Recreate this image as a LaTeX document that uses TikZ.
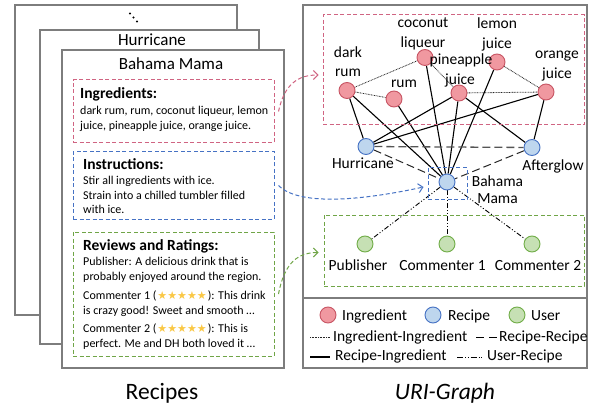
\documentclass[tikz,border=0pt]{standalone}
\usepackage{fontspec}
\setmainfont{Carlito}
\newfontfamily\starfont{DejaVu Sans}
\usetikzlibrary{arrows.meta,backgrounds}
\definecolor{ingF}{RGB}{240,152,160}
\definecolor{ingD}{RGB}{200,85,100}
\definecolor{recF}{RGB}{190,214,238}
\definecolor{recD}{RGB}{70,114,196}
\definecolor{usrF}{RGB}{198,224,180}
\definecolor{usrD}{RGB}{112,173,71}
\definecolor{boxR}{RGB}{208,100,130}
\definecolor{boxB}{RGB}{70,114,196}
\definecolor{boxG}{RGB}{112,165,71}
\definecolor{cardC}{RGB}{125,125,125}
\definecolor{starC}{RGB}{250,200,70}
\definecolor{rrC}{RGB}{85,85,85}
\newcommand\fivestars{{\starfont\fontsize{11}{12}\selectfont\color{starC}★★★★★}}
\tikzset{
  card/.style={draw=cardC, line width=1.6pt, fill=white},
  dbox/.style={rectangle, inner sep=0pt, line width=1pt, dash pattern=on 4pt off 2.5pt},
  ingnode/.style={circle, draw=ingD, fill=ingF, minimum size=16pt, inner sep=0pt, line width=0.9pt},
  recnode/.style={circle, draw=recD, fill=recF, minimum size=16pt, inner sep=0pt, line width=0.9pt},
  usrnode/.style={circle, draw=usrD, fill=usrF, minimum size=16pt, inner sep=0pt, line width=0.9pt},
  lbl/.style={anchor=base, inner sep=0pt, font=\fontsize{15.5}{18}\selectfont},
  legtxt/.style={anchor=base west, inner sep=0pt, font=\fontsize{15.5}{18}\selectfont},
  ttl/.style={anchor=base, inner sep=0pt, font=\fontsize{17}{20}\selectfont},
  bigttl/.style={anchor=base, inner sep=0pt, font=\fontsize{23.5}{26}\selectfont},
  bodytxt/.style={anchor=base west, inner sep=0pt, font=\fontsize{12}{14}\selectfont},
  headtxt/.style={anchor=base west, inner sep=0pt, font=\fontsize{15.5}{18}\selectfont\bfseries},
  iiedge/.style={dash pattern=on 0.8pt off 0.8pt, line width=0.8pt, draw=black!85},
  riedge/.style={line width=1.1pt, draw=black},
  rredge/.style={dash pattern=on 8pt off 4pt, line width=1.3pt, draw=rrC},
  uredge/.style={dash pattern=on 5pt off 2pt on 1pt off 2pt on 1pt off 2pt, line width=0.9pt, draw=black},
  linkarrow/.style={line width=1pt, dash pattern=on 4pt off 2.5pt, -{Straight Barb[length=4.5pt,width=9pt]}},
}
\begin{document}
\begin{tikzpicture}[x=1pt,y=-1pt]
\useasboundingbox (0,0) rectangle (594,406);

% ---------- left: recipe cards ----------
\draw[card] (15,5) rectangle (237,315);
\fill (130,13.5) circle (1.2pt);
\fill (133.5,17.5) circle (1.2pt);
\fill (137,21.5) circle (1.2pt);
\draw[card] (40,30) rectangle (259,344);
\node[ttl] (t-hur) at (152,46) {Hurricane};
\draw[card] (62,50) rectangle (284,368);
\node[ttl] (t-bm) at (171,70) {Bahama Mama};

\node[dbox, draw=boxR, minimum width=201pt, minimum height=63pt] (ingbox) at (173.5,111.5) {};
\node[dbox, draw=boxB, minimum width=201pt, minimum height=67pt] (insbox) at (173.5,185.5) {};
\node[dbox, draw=boxG, minimum width=201pt, minimum height=124pt] (revbox) at (173.5,294) {};

\node[headtxt] (h-ing) at (80,99) {Ingredients:};
\node[bodytxt] (b-ing1) at (80,115) {dark rum, rum, coconut liqueur, lemon};
\node[bodytxt] (b-ing2) at (80,129.5) {juice, pineapple juice, orange juice.};

\node[headtxt] (h-ins) at (83,170) {Instructions:};
\node[bodytxt] (b-ins1) at (83,185) {Stir all ingredients with ice.};
\node[bodytxt] (b-ins2) at (83,199.5) {Strain into a chilled tumbler filled};
\node[bodytxt] (b-ins3) at (83,214) {with ice.};

\node[headtxt] (h-rev) at (83,250) {Reviews and Ratings:};
\node[bodytxt] (b-rev1) at (83,265) {Publisher: A delicious drink that is};
\node[bodytxt] (b-rev2) at (83,280) {probably enjoyed around the region.};
\node[bodytxt] (b-rev3) at (83,299) {Commenter 1 (\hspace{1pt}\fivestars\hspace{1pt}): This drink};
\node[bodytxt] (b-rev4) at (83,314) {is crazy good! Sweet and smooth …};
\node[bodytxt] (b-rev5) at (83,332) {Commenter 2 (\hspace{1pt}\fivestars\hspace{1pt}): This is};
\node[bodytxt] (b-rev6) at (83,347) {perfect. Me and DH both loved it …};

\node[bigttl] (recipes) at (162,399) {Recipes};

% ---------- right: URI graph ----------
\draw[card, fill=none] (303,5) rectangle (587,368);
\node[dbox, draw=boxR, minimum width=261pt, minimum height=110pt] (gbox) at (453.5,70) {};
\node[dbox, draw=boxG, minimum width=260pt, minimum height=71pt] (ubox) at (454,250.5) {};
\node[dbox, draw=boxB, minimum width=39pt, minimum height=32pt] (bmbox) at (447.5,184) {};

% ingredient nodes
\node[ingnode] (darkrum) at (347,90.5) {};
\node[ingnode] (rum) at (394,99) {};
\node[ingnode] (coconut) at (425,57.5) {};
\node[ingnode] (pine) at (459,93) {};
\node[ingnode] (lemon) at (497,62) {};
\node[ingnode] (orange) at (546,92) {};
% recipe nodes
\node[recnode] (hur) at (366,146.5) {};
\node[recnode] (after) at (532,147.5) {};
\node[recnode] (bm) at (447,182) {};
% user nodes
\node[usrnode] (pub) at (365,244) {};
\node[usrnode] (com1) at (447,244) {};
\node[usrnode] (com2) at (532,244) {};

% labels
\node[lbl] (l-dr1) at (348,58) {dark};
\node[lbl] (l-dr2) at (348,77) {rum};
\node[lbl] (l-rum) at (404,88) {rum};
\node[lbl] (l-co1) at (423,28) {coconut};
\node[lbl] (l-co2) at (423,48) {liqueur};
\node[lbl] (l-pi1) at (461,65) {pineapple};
\node[lbl] (l-pi2) at (460,85) {juice};
\node[lbl] (l-le1) at (497,29) {lemon};
\node[lbl] (l-le2) at (497,49) {juice};
\node[lbl] (l-or1) at (557,59) {orange};
\node[lbl] (l-or2) at (557,79) {juice};
\node[lbl] (l-hur) at (363,169) {Hurricane};
\node[lbl] (l-aft) at (553,171) {Afterglow};
\node[lbl] (l-bm1) at (497.5,186) {Bahama};
\node[lbl] (l-bm2) at (497.5,204) {Mama};
\node[lbl] (l-pub) at (358,270) {Publisher};
\node[lbl] (l-c1) at (442.5,270) {Commenter 1};
\node[lbl] (l-c2) at (538,270) {Commenter 2};

% linking arrows
\coordinate (gin) at ([shift={(-4,5)}]gbox.west);
\coordinate (uin) at ([shift={(-5,2)}]ubox.west);
\coordinate (bin) at ([shift={(-4,3)}]bmbox.west);
\draw[linkarrow, draw=boxR] ([xshift=4pt]ingbox.east) .. controls +(6,-28) and +(-20,0) .. (gin);
\draw[linkarrow, draw=boxB] ([xshift=4pt]insbox.east) .. controls +(22,22) and +(-55,12) .. (bin);
\draw[linkarrow, draw=boxG] ([xshift=4pt]revbox.east) .. controls +(6,-32) and +(-20,0) .. (uin);

% separator and legend
\draw[draw=cardC, line width=1.6pt] (303,298) -- (587,298);
\node[ingnode] (leg-ing) at (328,315) {};
\node[legtxt] (leg-ing-t) at (342,320) {Ingredient};
\node[recnode] (leg-rec) at (433,315) {};
\node[legtxt] (leg-rec-t) at (448,320) {Recipe};
\node[usrnode] (leg-usr) at (517,315) {};
\node[legtxt] (leg-usr-t) at (531,320) {User};

\coordinate (lii-a) at (310,337);
\coordinate (lii-b) at (330,337);
\draw[iiedge] (lii-a) -- (lii-b);
\node[legtxt] (leg-ii) at (333,341) {Ingredient-Ingredient};
\coordinate (lrr-a) at (476,337);
\coordinate (lrr-b) at (497,337);
\draw[line width=1pt, dash pattern=on 8pt off 5pt] (lrr-a) -- (lrr-b);
\node[legtxt] (leg-rr) at (499,341) {Recipe-Recipe};
\coordinate (lri-a) at (310,357);
\coordinate (lri-b) at (330,357);
\draw[riedge] (lri-a) -- (lri-b);
\node[legtxt] (leg-ri) at (335,360) {Recipe-Ingredient};
\coordinate (lur-a) at (457,357);
\coordinate (lur-b) at (483,357);
\draw[line width=0.9pt, dash pattern=on 6pt off 2pt on 0.8pt off 2pt on 0.8pt off 2pt] (lur-a) -- (lur-b);
\node[legtxt] (leg-ur) at (487,360) {User-Recipe};

\node[bigttl, font=\fontsize{23.5}{26}\selectfont\itshape] (urig) at (445,399) {URI-Graph};

% ---------- edges (behind nodes) ----------
\begin{pgfonlayer}{background}
\fill[white] (0,0) rectangle (594,406);
% ingredient-ingredient
\draw[iiedge] (darkrum) -- (rum);
\draw[iiedge] (darkrum) -- (coconut);
\draw[iiedge] (coconut) -- (pine);
\draw[iiedge] (pine) -- (orange);
\draw[iiedge] (lemon) -- (orange);
% recipe-ingredient
\draw[riedge] (hur) -- (darkrum);
\draw[riedge] (hur) -- (pine);
\draw[riedge] (hur) -- (orange);
\draw[riedge] (bm) -- (darkrum);
\draw[riedge] (bm) -- (rum);
\draw[riedge] (bm) -- (coconut);
\draw[riedge] (bm) -- (pine);
\draw[riedge] (bm) -- (lemon);
\draw[riedge] (after) -- (pine);
\draw[riedge] (after) -- (orange);
% recipe-recipe
\draw[rredge] (hur) -- (after);
\draw[rredge, line width=1pt, draw=black!85] (hur) -- (bm);
\draw[rredge, line width=1pt, draw=black!85] (after) -- (bm);
% user-recipe
\draw[uredge] (bm) -- (pub);
\draw[uredge] (bm) -- (com1);
\draw[uredge] (bm) -- (com2);
\end{pgfonlayer}
\end{tikzpicture}
\end{document}
